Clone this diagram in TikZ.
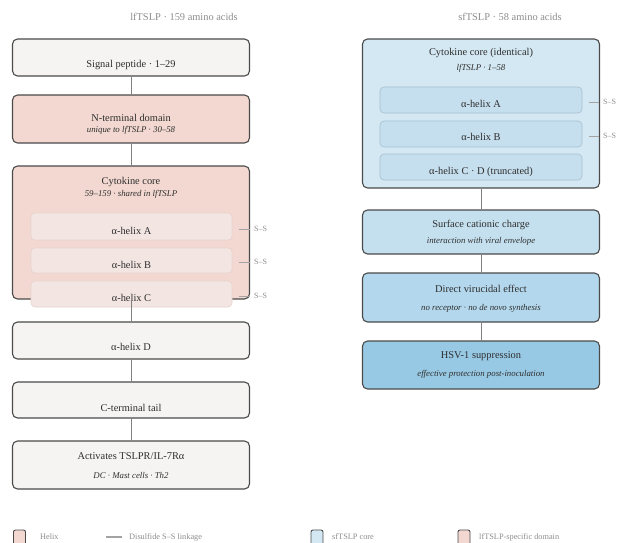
\documentclass[tikz,border=0pt]{standalone}
\usepackage{fontspec}
\setmainfont{Liberation Serif}
\usepackage{tikz}
\usetikzlibrary{positioning}
\usepackage{xcolor}
\definecolor{cEdge}{HTML}{4A4A4A}
\definecolor{cInk}{HTML}{2E2E2E}
\definecolor{cMute}{HTML}{8C8C8C}
\definecolor{cWire}{HTML}{808080}
\definecolor{cPaper}{HTML}{F5F4F2}
\definecolor{cPink}{HTML}{F2D8D0}
\definecolor{cPinkHx}{HTML}{F3E6E2}
\definecolor{cPinkHxEdge}{HTML}{E6D3CE}
\definecolor{cBlueCore}{HTML}{D4E8F3}
\definecolor{cBlueHx}{HTML}{C6DFEE}
\definecolor{cBlueHxEdge}{HTML}{A6C0D0}
\definecolor{cBlueA}{HTML}{C4E0EF}
\definecolor{cBlueB}{HTML}{B3D7EC}
\definecolor{cBlueC}{HTML}{98C9E4}

\begin{document}
\begin{tikzpicture}[
    x=1pt, y=-1pt,
    box/.style={rectangle,draw=cEdge,line width=1.1pt,rounded corners=5pt,minimum width=237pt,inner sep=0pt},
    helix/.style={rectangle,line width=0.6pt,rounded corners=4pt,minimum width=201pt,minimum height=26pt,inner sep=0pt},
    main/.style={font=\fontsize{10.4}{12}\selectfont,text=cInk,inner sep=0pt},
    sub/.style={font=\fontsize{8.8}{10}\selectfont\itshape,text=cInk,inner sep=0pt},
    head/.style={font=\fontsize{10.4}{12}\selectfont,text=cMute,inner sep=0pt},
    sslbl/.style={font=\fontsize{8}{9}\selectfont,text=cMute,inner sep=0pt,anchor=west},
    key/.style={rectangle,draw=cEdge,line width=0.9pt,rounded corners=2pt,minimum width=12pt,minimum height=15pt,inner sep=0pt},
    keylbl/.style={font=\fontsize{8.3}{9}\selectfont,text=cMute,inner sep=0pt,anchor=west},
    wire/.style={draw=cWire,line width=0.9pt},
    ssline/.style={draw=cMute!80,line width=0.9pt}
  ]
  \useasboundingbox (0,0) rectangle (618,543);

  % lfTSLP column
  \node[head] (hdL) at (184,17) {lfTSLP · 159 amino acids};
  \node[box,fill=cPaper,minimum height=37pt] (sig) at (131,57.5) {};
  \node[main] (sigT) at (131,65) {Signal peptide · 1–29};
  \node[box,fill=cPink,minimum height=48pt] (nterm) at (131,119) {};
  \node[main] (ntermT) at (131,118) {N-terminal domain};
  \node[sub] (ntermS) at (131,130) {unique to lfTSLP · 30–58};
  \node[box,fill=cPink,minimum height=133pt] (core) at (131,232.5) {};
  \node[main] (coreT) at (131,182) {Cytokine core};
  \node[sub] (coreS) at (131,194) {59–159 · shared in lfTSLP};
  \node[helix,fill=cPinkHx,draw=cPinkHxEdge,minimum height=27pt] (hA) at (131.5,226.5) {};
  \node[main] (hAT) at (131.5,231) {α-helix A};
  \node[helix,fill=cPinkHx,draw=cPinkHxEdge,minimum height=25pt] (hB) at (131.5,260.5) {};
  \node[main] (hBT) at (131.5,265) {α-helix B};
  \node[helix,fill=cPinkHx,draw=cPinkHxEdge] (hC) at (131.5,294) {};
  \node[main] (hCT) at (131.5,298) {α-helix C};
  \node[sslbl] (ssA) at (254,229) {S–S};
  \node[sslbl] (ssB) at (254,262) {S–S};
  \node[sslbl] (ssC) at (254,296) {S–S};
  \draw[ssline] ([xshift=-15pt]ssA.west) -- ([xshift=-4pt]ssA.west);
  \draw[ssline] ([xshift=-15pt]ssB.west) -- ([xshift=-4pt]ssB.west);
  \draw[ssline] ([xshift=-15pt]ssC.west) -- ([xshift=-4pt]ssC.west);
  \node[box,fill=cPaper,minimum height=37pt] (hD) at (131,340.5) {};
  \node[main] (hDT) at (131,347) {α-helix D};
  \node[box,fill=cPaper,minimum height=36pt] (cterm) at (131,400) {};
  \node[main] (ctermT) at (131,408) {C-terminal tail};
  \node[box,fill=cPaper,minimum height=48pt] (act) at (131,465) {};
  \node[main] (actT) at (131,456) {Activates TSLPR/IL-7Rα};
  \node[sub] (actS) at (131,475) {DC · Mast cells · Th2};

  \draw[wire] (sig) -- (nterm);
  \draw[wire] (nterm) -- (core);
  \draw[wire] (core.south) -- (hD.north);
  \draw[wire] (hD) -- (cterm);
  \draw[wire] (cterm) -- (act);

  % sfTSLP column
  \node[head] (hdR) at (510,17) {sfTSLP · 58 amino acids};
  \node[box,fill=cBlueCore,minimum height=149pt] (rcore) at (481,113.5) {};
  \node[main] (rcoreT) at (481,53) {Cytokine core (identical)};
  \node[sub] (rcoreS) at (481,68) {lfTSLP · 1–58};
  \node[helix,fill=cBlueHx,draw=cBlueHxEdge,minimum width=202pt] (rhA) at (481,100) {};
  \node[main] (rhAT) at (481,104) {α-helix A};
  \node[helix,fill=cBlueHx,draw=cBlueHxEdge,minimum width=202pt] (rhB) at (481,134) {};
  \node[main] (rhBT) at (481,137) {α-helix B};
  \node[helix,fill=cBlueHx,draw=cBlueHxEdge,minimum width=202pt] (rhCD) at (481,167) {};
  \node[main] (rhCDT) at (481,172) {α-helix C · D (truncated)};
  \node[sslbl] (rssA) at (603,102) {S–S};
  \node[sslbl] (rssB) at (603,136) {S–S};
  \draw[ssline] ([xshift=-14pt]rssA.west) -- ([xshift=-4pt]rssA.west);
  \draw[ssline] ([xshift=-14pt]rssB.west) -- ([xshift=-4pt]rssB.west);
  \node[box,fill=cBlueA,minimum height=44pt] (surf) at (481,232) {};
  \node[main] (surfT) at (481,225) {Surface cationic charge};
  \node[sub] (surfS) at (481,241) {interaction with viral envelope};
  \node[box,fill=cBlueB,minimum height=49pt] (viru) at (481,297.5) {};
  \node[main] (viruT) at (481,289) {Direct virucidal effect};
  \node[sub] (viruS) at (481,308) {no receptor · no de novo synthesis};
  \node[box,fill=cBlueC,minimum height=48pt] (hsv) at (481,365) {};
  \node[main] (hsvT) at (481,356) {HSV-1 suppression};
  \node[sub] (hsvS) at (481,374) {effective protection post-inoculation};

  \draw[wire] (rcore) -- (surf);
  \draw[wire] (surf) -- (viru);
  \draw[wire] (viru) -- (hsv);

  % legend
  \node[key,fill=cPink] (kHx) at (19.5,537.5) {};
  \node[keylbl] (kHxT) at (40,537) {Helix};
  \coordinate (kSSa) at (106,537);
  \coordinate (kSSb) at (122,537);
  \draw[ssline,line width=1.3pt] (kSSa) -- (kSSb);
  \node[keylbl] (kSST) at (129,537) {Disulfide S–S linkage};
  \node[key,fill=cBlueCore] (kSf) at (317,537.5) {};
  \node[keylbl] (kSfT) at (332,537) {sfTSLP core};
  \node[key,fill=cPink] (kLf) at (464,537.5) {};
  \node[keylbl] (kLfT) at (479,537) {lfTSLP-specific domain};
\end{tikzpicture}
\end{document}
